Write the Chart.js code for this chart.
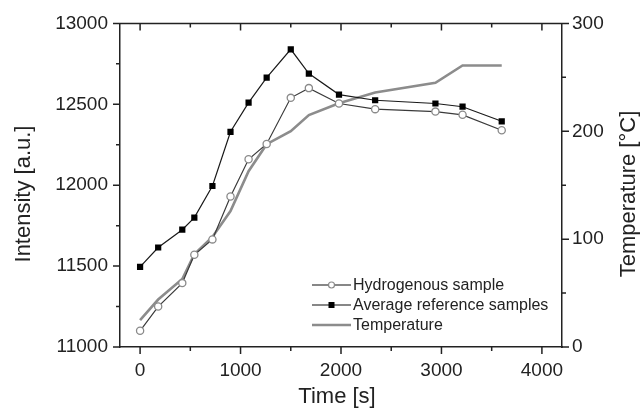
<!DOCTYPE html>
<html>
<head>
<meta charset="utf-8">
<script src="https://cdn.jsdelivr.net/npm/chart.js@4.4.0/dist/chart.umd.min.js"></script>
<style>
  body { margin: 0; background: #fff; }
  #wrap { width: 641px; height: 410px; position: relative; }
</style>
</head>
<body>
<div id="wrap"><canvas id="myChart"></canvas></div>
<script>
// time points [s]
var times = [0, 180, 420, 540, 720, 900, 1080, 1260, 1500, 1680, 1980, 2340, 2940, 3210, 3600];
// intensity [a.u.]
var hydrogenous = [11100, 11250, 11395, 11570, 11665, 11930, 12160, 12255, 12540, 12600, 12505, 12470, 12455, 12435, 12340];
var reference = [11495, 11615, 11725, 11800, 11995, 12330, 12510, 12665, 12840, 12690, 12560, 12525, 12505, 12485, 12395];
// temperature [°C]
var temperature = [25, 44, 63, 86, 102, 126, 163, 188, 200, 215, 226, 236, 245, 261, 261];

var seriesNames = ['Hydrogenous sample', 'Average reference samples', 'Temperature'];
var xTicks = [0, 1000, 2000, 3000, 4000];
var yTicks = [11000, 11500, 12000, 12500, 13000];
var y1Ticks = [0, 100, 200, 300];

function pts(xs, ys) {
    return xs.map(function (x, i) { return { x: x, y: ys[i] }; });
}

var FONT = '"Liberation Sans", Arial, sans-serif';
var TXT = '#222';

// ticks (major + minor), top frame line, axis titles, legend
var decor = {
    id: 'decor',
    afterDraw: function (chart) {
        var ctx = chart.ctx;
        var a = chart.chartArea;
        var sx = chart.scales.x, sy = chart.scales.y, sy1 = chart.scales.y1;
        ctx.save();
        ctx.strokeStyle = TXT;
        ctx.lineWidth = 1.5;
        // top frame
        ctx.beginPath();
        ctx.moveTo(a.left, a.top);
        ctx.lineTo(a.right, a.top);
        ctx.stroke();
        ctx.beginPath();
        var v, p, L;
        for (v = 0; v <= 4000; v += 500) {
            p = sx.getPixelForValue(v);
            L = (v % 1000 === 0) ? 7 : 4;
            ctx.moveTo(p, a.bottom); ctx.lineTo(p, a.bottom + L);
            ctx.moveTo(p, a.top); ctx.lineTo(p, a.top + L);
        }
        for (v = 11000; v <= 13000; v += 250) {
            p = sy.getPixelForValue(v);
            L = (v % 500 === 0) ? 7 : 4;
            ctx.moveTo(a.left, p); ctx.lineTo(a.left - L, p);
        }
        for (v = 0; v <= 300; v += 50) {
            p = sy1.getPixelForValue(v);
            L = (v % 100 === 0) ? 7 : 4;
            ctx.moveTo(a.right, p); ctx.lineTo(a.right + L, p);
        }
        ctx.stroke();

        // axis titles
        ctx.fillStyle = TXT;
        ctx.font = '22px ' + FONT;
        ctx.textAlign = 'center';
        ctx.textBaseline = 'middle';
        ctx.fillText('Time [s]', 337, 397);
        ctx.save();
        ctx.translate(24, 194);
        ctx.rotate(-Math.PI / 2);
        ctx.fillText('Intensity [a.u.]', 0, 0);
        ctx.restore();
        ctx.save();
        ctx.translate(629, 194);
        ctx.rotate(-Math.PI / 2);
        ctx.fillText('Temperature [°C]', 0, 0);
        ctx.restore();

        // legend
        ctx.font = '16px ' + FONT;
        ctx.textAlign = 'left';
        var rows = [285, 305, 325];
        chart.data.datasets.forEach(function (ds, i) {
            var y = rows[i];
            ctx.strokeStyle = i === 2 ? ds.borderColor : '#111';
            ctx.lineWidth = ds.borderWidth;
            ctx.beginPath();
            ctx.moveTo(312, y); ctx.lineTo(351, y);
            ctx.stroke();
            if (ds.pointRadius > 0) {
                ctx.fillStyle = ds.pointBackgroundColor;
                ctx.strokeStyle = ds.pointBorderColor;
                ctx.lineWidth = 1.2;
                if (ds.pointStyle === 'rect') {
                    ctx.fillRect(328.5, y - 3, 6, 6);
                } else {
                    ctx.beginPath();
                    ctx.arc(331.5, y, 3, 0, Math.PI * 2);
                    ctx.fill();
                    ctx.stroke();
                }
            }
            ctx.fillStyle = TXT;
            ctx.fillText(ds.label, 353, y + 1);
        });
        ctx.restore();
    }
};

function plain(v) { return String(v); }

new Chart(document.getElementById('myChart'), {
    type: 'line',
    data: {
        datasets: [{
            label: seriesNames[0],
            data: pts(times, hydrogenous),
            yAxisID: 'y',
            borderColor: '#3a3a3a',
            borderWidth: 1.2,
            pointStyle: 'circle',
            pointRadius: 3.6,
            pointBackgroundColor: '#ffffff',
            pointBorderColor: '#8a8a8a',
            pointBorderWidth: 1.3,
            order: 2
        }, {
            label: seriesNames[1],
            data: pts(times, reference),
            yAxisID: 'y',
            borderColor: '#1a1a1a',
            borderWidth: 1.2,
            pointStyle: 'rect',
            pointRadius: 4.4,
            pointBackgroundColor: '#000000',
            pointBorderColor: '#000000',
            pointBorderWidth: 0,
            order: 1
        }, {
            label: seriesNames[2],
            data: pts(times, temperature),
            yAxisID: 'y1',
            borderColor: '#8c8c8c',
            borderWidth: 2.6,
            pointRadius: 0,
            order: 3
        }]
    },
    options: {
        responsive: true,
        maintainAspectRatio: false,
        animation: false,
        layout: { padding: { top: 22, left: 0, right: 0, bottom: 0 } },
        plugins: { legend: { display: false }, tooltip: { enabled: false } },
        scales: {
            x: {
                type: 'linear',
                position: 'bottom',
                min: -200,
                max: 4200,
                afterBuildTicks: function (s) { s.ticks = xTicks.map(function (v) { return { value: v }; }); },
                afterFit: function (s) { s.height = 63; },
                grid: { display: false, drawTicks: false },
                border: { display: true, color: TXT, width: 1.5 },
                ticks: { color: TXT, font: { family: FONT, size: 19 }, padding: 12, maxRotation: 0, callback: plain }
            },
            y: {
                type: 'linear',
                position: 'left',
                min: 11000,
                max: 13000,
                afterBuildTicks: function (s) { s.ticks = yTicks.map(function (v) { return { value: v }; }); },
                afterFit: function (s) { s.width = 120; },
                grid: { display: false, drawTicks: false },
                border: { display: true, color: TXT, width: 1.5 },
                ticks: { color: TXT, font: { family: FONT, size: 19 }, padding: 12, callback: plain }
            },
            y1: {
                type: 'linear',
                position: 'right',
                min: 0,
                max: 300,
                afterBuildTicks: function (s) { s.ticks = y1Ticks.map(function (v) { return { value: v }; }); },
                afterFit: function (s) { s.width = 79; },
                grid: { display: false, drawTicks: false },
                border: { display: true, color: TXT, width: 1.5 },
                ticks: { color: TXT, font: { family: FONT, size: 19 }, padding: 10, callback: plain }
            }
        }
    },
    plugins: [decor]
});
</script>
</body>
</html>
